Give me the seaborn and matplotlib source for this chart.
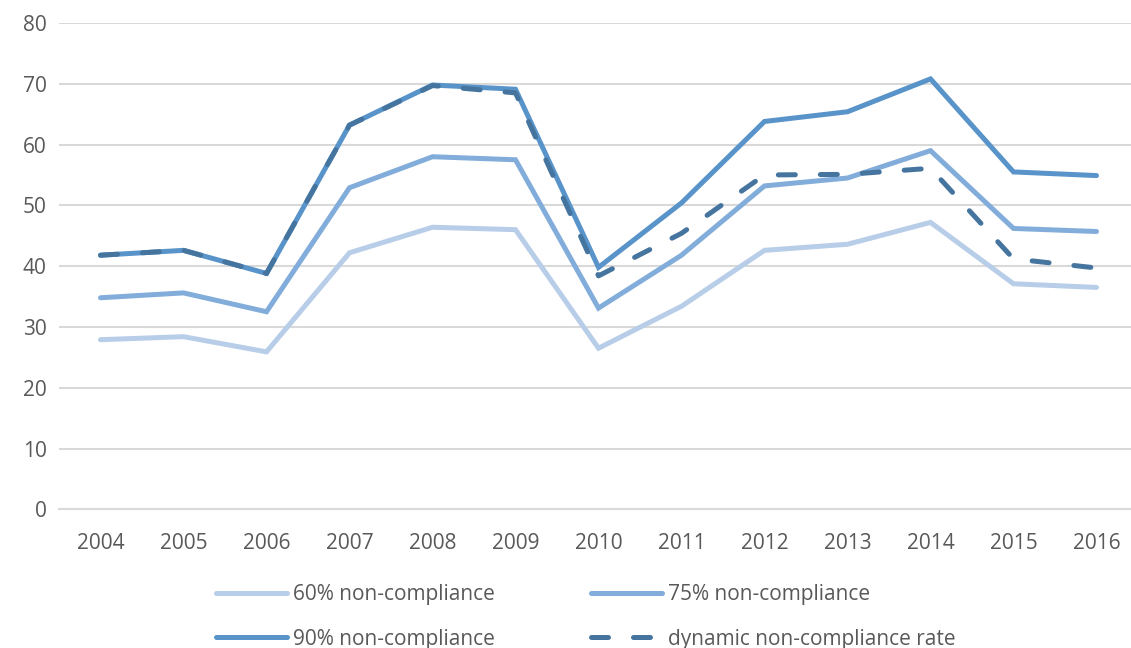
import matplotlib
matplotlib.use("Agg")
import matplotlib.pyplot as plt
import seaborn as sns
import pandas as pd
from matplotlib.ticker import FixedLocator

years = ["2004", "2005", "2006", "2007", "2008", "2009", "2010",
         "2011", "2012", "2013", "2014", "2015", "2016"]

nc_60 = [27.9, 28.4, 25.9, 42.2, 46.4, 46.0, 26.5, 33.4, 42.6, 43.6, 47.2, 37.1, 36.5]
nc_75 = [34.8, 35.6, 32.5, 52.9, 58.0, 57.5, 33.1, 41.8, 53.2, 54.5, 59.0, 46.2, 45.7]
nc_90 = [41.8, 42.6, 38.8, 63.2, 69.8, 69.1, 39.8, 50.4, 63.8, 65.4, 70.8, 55.5, 54.9]
nc_dyn = [41.8, 42.6, 38.8, 63.2, 69.7, 68.5, 38.4, 45.4, 55.0, 55.1, 56.1, 41.2, 39.7]

labels = ["60% non-compliance", "75% non-compliance",
          "90% non-compliance", "dynamic non-compliance rate"]
colors = ["#B7CDE8", "#82ADDB", "#5893C9", "#45759F"]

sns.set_theme(style="white")
plt.rcParams["font.family"] = ["Open Sans", "DejaVu Sans"]

text_color = "#595959"
grid_color = "#D9D9D9"

fig = plt.figure(figsize=(11.31, 6.48), dpi=100)
ax = fig.add_axes([59 / 1131, 1 - 509.3 / 648, 1079 / 1131, 486.3 / 648])

idx = list(range(len(years)))
series = [nc_60, nc_75, nc_90, nc_dyn]
for vals, lab, col in zip(series, labels, colors):
    df = pd.DataFrame({"x": idx, "y": vals})
    style = (0, (3.4, 5.0)) if lab.startswith("dynamic") else "-"
    sns.lineplot(data=df, x="x", y="y", ax=ax, color=col, linewidth=3.6,
                 linestyle=style, label=lab, solid_capstyle="round",
                 dash_capstyle="round", solid_joinstyle="miter", legend=False)

ax.set_xlim(-0.5, len(years) - 0.5)
ax.set_ylim(0, 80)
ax.set_xlabel("")
ax.set_ylabel("")

ax.set_yticks(range(0, 81, 10))
ax.yaxis.grid(True, color=grid_color, linewidth=1.5)
ax.set_axisbelow(True)

ax.set_xticks(idx)
ax.set_xticklabels(years)
ax.xaxis.set_minor_locator(FixedLocator([i - 0.5 for i in range(len(years) + 1)]))
ax.tick_params(axis="x", which="major", length=0, pad=17, labelsize=15, labelcolor=text_color)
ax.tick_params(axis="x", which="minor", length=7, width=1.5, color=grid_color, direction="out")
ax.tick_params(axis="y", length=0, pad=9, labelsize=15, labelcolor=text_color)

for s in ["top", "right", "left"]:
    ax.spines[s].set_visible(False)
ax.spines["bottom"].set_color(grid_color)
ax.spines["bottom"].set_linewidth(1.5)

handles, labs = ax.get_legend_handles_labels()
order = [0, 2, 1, 3]
leg = fig.legend([handles[i] for i in order], [labs[i] for i in order],
                 ncol=2, loc="center", bbox_to_anchor=(586 / 1131, 1 - 617 / 648),
                 frameon=False, fontsize=15, handlelength=3.4, handletextpad=0.3,
                 columnspacing=4.6, labelspacing=1.13)
for t in leg.get_texts():
    t.set_color(text_color)

fig.savefig("out.png", dpi=100)
